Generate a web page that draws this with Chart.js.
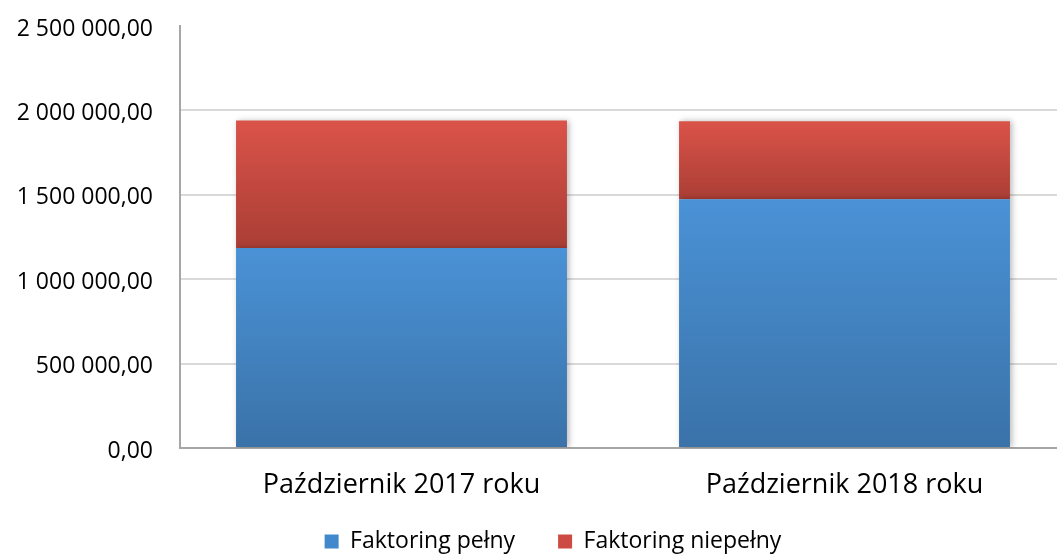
<!DOCTYPE html>
<html>
<head>
<meta charset="utf-8">
<script src="https://cdn.jsdelivr.net/npm/chart.js@4.4.1/dist/chart.umd.min.js"></script>
<style>
  html, body { margin: 0; padding: 0; background: #fff; overflow: hidden; }
  #wrap { width: 1066px; height: 554px; }
</style>
</head>
<body>
<div id="wrap"><canvas id="chart1" width="1066" height="554"></canvas></div>
<script>
// Data
var categories = ['Październik 2017 roku', 'Październik 2018 roku'];
var pelny = [1185000, 1473000];
var niepelny = [755000, 462000];
var seriesNames = ['Faktoring pełny', 'Faktoring niepełny'];

// gradient colours (top, bottom) for every series
var blueGrad = ['#4a92d6', '#3a72a8'];
var redGrad = ['#da5349', '#aa3e35'];

function fmt(v){
    var s = Math.round(v).toString();
    s = s.replace(/\B(?=(\d{3})+(?!\d))/g, ' ');
    return s + ',00';
}

function segFill(cols, startOf){
    return function(c){
        if (c.type !== 'data') return cols[0];
        var y = c.chart.scales.y;
        if (!y || !c.chart.chartArea) return cols[0];
        var lo = startOf(c.dataIndex);
        var hi = lo + c.raw;
        var g = c.chart.ctx.createLinearGradient(0, y.getPixelForValue(hi), 0, y.getPixelForValue(lo));
        g.addColorStop(0, cols[0]);
        g.addColorStop(1, cols[1]);
        return g;
    };
}

// soft shadow for bars
var barShadow = {
    id: 'barShadow',
    beforeDatasetsDraw: function(chart){
        var ctx = chart.ctx;
        ctx.save();
        ctx.shadowColor = 'rgba(0,0,0,0.28)';
        ctx.shadowBlur = 6;
        ctx.shadowOffsetX = 2;
        ctx.shadowOffsetY = 0;
    },
    afterDatasetsDraw: function(chart){
        chart.ctx.restore();
    }
};

// legend sits a bit higher (and a bit more right) than its own box allows
var legendMove = {
    id: 'legendMove',
    afterLayout: function(chart){
        var lg = chart.legend;
        lg.top = 487;
        lg.bottom = chart.height;
        lg.left = 40;
    }
};

const ctx1 = document.getElementById('chart1').getContext('2d');
const chart = new Chart(ctx1, {
    type: 'bar',
    data: {
        labels: categories,
        datasets: [{
            label: seriesNames[0],
            data: pelny,
            backgroundColor: segFill(blueGrad, function(i){ return 0; }),
            borderWidth: 0,
            barPercentage: 0.747,
            categoryPercentage: 1
        },
        {
            label: seriesNames[1],
            data: niepelny,
            backgroundColor: segFill(redGrad, function(i){ return pelny[i]; }),
            borderWidth: 0,
            barPercentage: 0.747,
            categoryPercentage: 1
        }]
    },
    plugins: [barShadow, legendMove],
    options: {
        responsive: false,
        animation: false,
        layout: { padding: { top: 26, left: 0, right: 0, bottom: 0 } },
        plugins: {
            tooltip: { enabled: false },
            legend: {
                position: 'bottom',
                maxHeight: 36,
                labels: {
                    boxWidth: 14,
                    boxHeight: 14,
                    padding: 43,
                    color: '#000',
                    font: { family: "'Open Sans'", size: 23 },
                    generateLabels: function(ch){
                        var items = Chart.defaults.plugins.legend.labels.generateLabels(ch);
                        items[0].fillStyle = '#4288cc';
                        items[1].fillStyle = '#cc4b42';
                        items.forEach(function(it){ it.lineWidth = 0; it.strokeStyle = 'transparent'; });
                        return items;
                    }
                }
            }
        },
        scales: {
            x: {
                stacked: true,
                grid: { display: false, drawTicks: false },
                border: { display: true, color: '#a6a6a6', width: 2 },
                ticks: {
                    color: '#000',
                    padding: 21,
                    font: { family: "'Open Sans'", size: 27 }
                },
                afterFit: function(s){ s.height = 70; }
            },
            y: {
                stacked: true,
                min: 0,
                max: 2500000,
                grid: {
                    color: function(c){ return c.tick && c.tick.value === 2500000 ? 'rgba(0,0,0,0)' : '#d9d9d9'; },
                    lineWidth: 2,
                    drawTicks: false
                },
                border: { display: true, color: '#a6a6a6', width: 2 },
                ticks: {
                    stepSize: 500000,
                    color: '#000',
                    padding: 27,
                    labelOffset: 3,
                    font: { family: "'Open Sans'", size: 23 },
                    callback: function(v){ return fmt(v); }
                },
                afterFit: function(s){
                    s.width = 180;
                    s.paddingTop = 0;
                    s.paddingBottom = 0;
                }
            }
        }
    }
});
</script>
</body>
</html>
